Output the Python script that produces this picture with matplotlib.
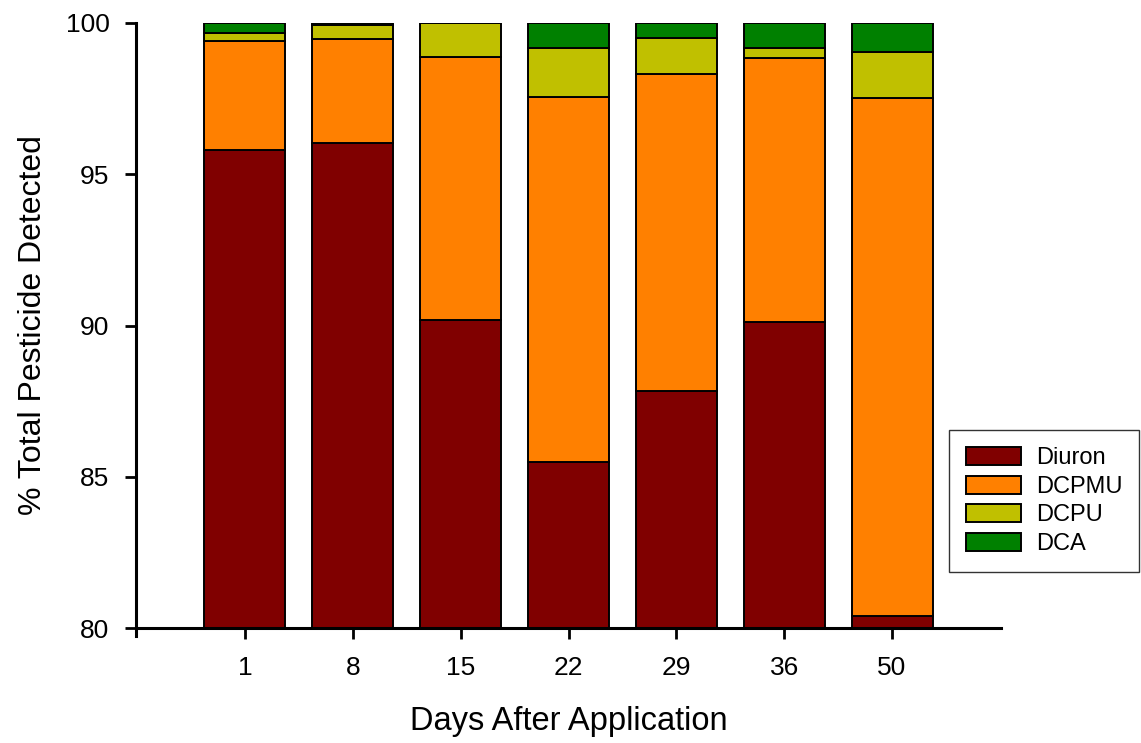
import numpy as np
import matplotlib.pyplot as plt

plt.rcParams['font.family'] = ['Liberation Sans', 'DejaVu Sans']

days = ['1', '8', '15', '22', '29', '36', '50']
diuron = [95.80, 96.03, 90.18, 85.49, 87.83, 90.12, 80.40]
dcpmu = [3.59, 3.43, 8.69, 12.06, 10.48, 8.71, 17.12]
dcpu = [0.29, 0.46, 1.13, 1.61, 1.20, 0.36, 1.53]
dca = [0.32, 0.08, 0.00, 0.84, 0.49, 0.81, 0.95]

names = ['Diuron', 'DCPMU', 'DCPU', 'DCA']
colors = ['#800000', '#ff8000', '#c0c000', '#008000']

fig = plt.figure(figsize=(11.41, 7.43), dpi=100)
ax = fig.add_axes([136/1141, 1-628/743, (1001-136)/1141, (628-23)/743])

x = np.arange(len(days))
bottom = np.zeros(len(days))
for vals, name, col in zip([diuron, dcpmu, dcpu, dca], names, colors):
    ax.bar(x, vals, 0.75, bottom=bottom, color=col, edgecolor='black',
           linewidth=1.4, label=name)
    bottom += np.array(vals)

ax.set_ylim(80, 100)
ax.set_xlim(-1.01, 7.01)
ax.set_xticks(x)
ax.set_xticklabels(days)
ax.set_yticks([80, 85, 90, 95, 100])

for s in ['top', 'right']:
    ax.spines[s].set_visible(False)
for s in ['left', 'bottom']:
    ax.spines[s].set_linewidth(2.2)
ax.spines['left'].set_bounds(79.74, 100)

ax.tick_params(axis='both', labelsize=19, width=2, length=8, direction='out')
ax.tick_params(axis='x', pad=12)
ax.tick_params(axis='y', pad=11)

ax.set_xlabel('Days After Application', fontsize=23.5, labelpad=19)
ax.set_ylabel('% Total Pesticide Detected', fontsize=23, labelpad=13)

leg = ax.legend(loc='upper left', bbox_to_anchor=(949/1141, 1-430/743),
                bbox_transform=fig.transFigure, fontsize=17, frameon=True,
                fancybox=False, edgecolor='black', handlelength=2.35,
                handleheight=0.8, borderpad=0.72, labelspacing=0.27,
                handletextpad=0.6, borderaxespad=0)
leg.get_frame().set_linewidth(1.0)

fig.savefig('out.png', dpi=100)
